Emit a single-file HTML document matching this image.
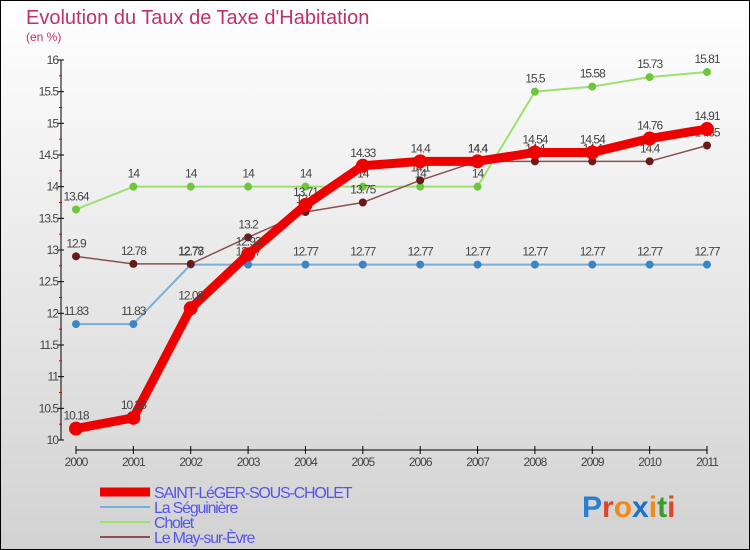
<!DOCTYPE html>
<html><head><meta charset="utf-8"><style>
html,body{margin:0;padding:0}
body{width:750px;height:550px;overflow:hidden;font-family:"Liberation Sans",sans-serif}
svg{display:block}
</style></head><body>
<svg width="750" height="550" id="c">
<defs><linearGradient id="bg" x1="0" y1="0" x2="0" y2="1"><stop offset="0" stop-color="#ffffff"/><stop offset="1" stop-color="#d2d2d2"/></linearGradient></defs>
<rect x="0.5" y="0.5" width="749" height="549" fill="url(#bg)" stroke="#000"/>
<text x="26" y="24" font-size="20" fill="#c0306a">Evolution du Taux de Taxe d'Habitation</text>
<text x="26" y="41" font-size="12" fill="#c0306a">(en %)</text>
<g id="axes"></g><g id="series"></g><g id="legend"></g>
<text x="582" y="517" font-size="30" font-weight="bold"><tspan fill="#2a7fd4">P</tspan><tspan fill="#e0442a">r</tspan><tspan fill="#f08a1c">o</tspan><tspan fill="#1f6fc9">x</tspan><tspan fill="#f08a1c">i</tspan><tspan fill="#3a9a2a">t</tspan><tspan fill="#e0442a">i</tspan></text>
</svg>
<script>
const years=[2000,2001,2002,2003,2004,2005,2006,2007,2008,2009,2010,2011];
const yTicks=[10,10.5,11,11.5,12,12.5,13,13.5,14,14.5,15,15.5,16];
const sStLeger=[10.18,10.35,12.08,12.93,13.71,14.33,14.4,14.4,14.54,14.54,14.76,14.91];
const sSeguiniere=[11.83,11.83,12.77,12.77,12.77,12.77,12.77,12.77,12.77,12.77,12.77,12.77];
const sCholet=[13.64,14,14,14,14,14,14,14,15.5,15.58,15.73,15.81];
const sMay=[12.9,12.78,12.78,13.2,13.6,13.75,14.1,14.4,14.4,14.4,14.4,14.65];
const names=["SAINT-LéGER-SOUS-CHOLET","La Séguinière","Cholet","Le May-sur-Èvre"];
const NS="http://www.w3.org/2000/svg";
const X=i=>76+i*(707-76)/(years.length-1);
const Y=v=>440-(v-10)*(380/6);
function mk(p,t,a){const e=document.createElementNS(NS,t);for(const k in a)e.setAttribute(k,a[k]);p.appendChild(e);return e;}
const ax=document.getElementById('axes');
let l=mk(ax,'line',{x1:61,y1:60,x2:61,y2:440,stroke:'#000'});


yTicks.forEach((v,i)=>{
  mk(ax,'line',{x1:58,y1:Y(v),x2:64,y2:Y(v),stroke:'#000'});
  if(i<yTicks.length-1) mk(ax,'line',{x1:59,y1:Y(v+0.25),x2:62,y2:Y(v+0.25),stroke:'#d00'});
  const t=mk(ax,'text',{x:58,y:Y(v)+4,'font-size':12,fill:'#444','text-anchor':'end','letter-spacing':'-1'});
  t.textContent=String(v);
  
  
});
l=mk(ax,'line',{x1:76,y1:450,x2:707,y2:450,stroke:'#000'});


years.forEach((y,i)=>{
  mk(ax,'line',{x1:X(i),y1:446,x2:X(i),y2:454,stroke:'#000'});
  const t=mk(ax,'text',{x:X(i),y:466,'font-size':12,fill:'#444','text-anchor':'middle','letter-spacing':'-1'});
  t.textContent=String(y);
  
  
});
const sg=document.getElementById('series');
const defs=[
 {d:sSeguiniere,c:'#7aaed6',w:2,m:'#3a86c4',r:4,n:'seguiniere'},
 {d:sCholet,c:'#9ee070',w:2,m:'#6cc83a',r:4,n:'cholet'},
 {d:sMay,c:'#8a5050',w:1.5,m:'#6a1a1a',r:4,n:'may-sur-evre'},
 {d:sStLeger,c:'#ee0000',w:9,m:'#ee0000',r:7,n:'saint-leger'}];
defs.forEach(s=>{
  const g=mk(sg,'g',{});
  
  
  mk(g,'polyline',{points:s.d.map((v,i)=>X(i)+','+Y(v)).join(' '),fill:'none',stroke:s.c,'stroke-width':s.w,'stroke-linejoin':'round'});
  s.d.forEach((v,i)=>{
    const c=mk(g,'circle',{cx:X(i),cy:Y(v),r:s.r,fill:s.m});
    
    
    const t=mk(g,'text',{x:X(i),y:Y(v)-9,'font-size':12,fill:'#444','text-anchor':'middle','letter-spacing':'-1'});
    t.textContent=String(v);
    
    
  });
});
const lg=document.getElementById('legend');
const lc=['#ee0000','#7aaed6','#9ee070','#8a5050'],lw=[9,2,2,2];
names.forEach((n,i)=>{
  const y=492+i*15;
  const g=mk(lg,'g',{});
  
  
  mk(g,'line',{x1:100,y1:y,x2:150,y2:y,stroke:lc[i],'stroke-width':lw[i]});
  const t=mk(g,'text',{x:154,y:y+6,'font-size':16,fill:'#5555ee','letter-spacing':'-1.2'});
  t.textContent=n;
});
</script>
</body></html>
